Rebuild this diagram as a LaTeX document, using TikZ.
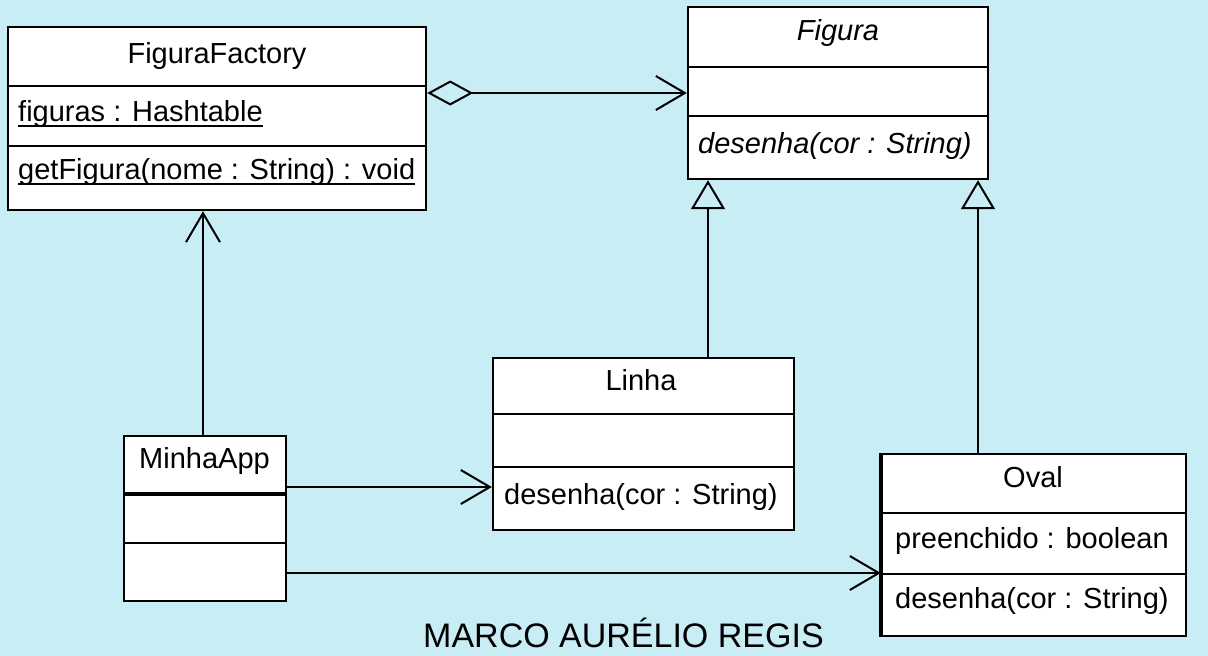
\documentclass[tikz,border=0pt]{standalone}
\usepackage{fontspec}
\setmainfont{Liberation Sans}
\usetikzlibrary{arrows.meta}
\definecolor{bgblue}{RGB}{200,237,245}
\tikzset{
  cls/.style={draw=black, fill=white, line width=2.4pt, inner sep=0pt},
  divider/.style={line width=2.2pt},
  txt/.style={inner sep=0pt, font=\fontsize{29}{34}\selectfont},
  itxt/.style={inner sep=0pt, font=\fontsize{29}{34}\selectfont\itshape},
  conn/.style={line width=2pt},
  dep/.style={conn, -{Straight Barb[length=29pt,width=34pt]}},
  gen/.style={conn, -{Triangle[open,length=29pt,width=34pt]}},
  agg/.style={conn, {Diamond[open,length=46pt,width=25pt]}-{Straight Barb[length=29pt,width=34pt]}},
}
\begin{document}
\begin{tikzpicture}[x=1pt,y=-1pt]
\fill[bgblue] (0,0) rectangle (1208,656);
\useasboundingbox (0,0) rectangle (1208,656);

% class boxes
\node[cls, minimum width=418pt, minimum height=183pt] (ff) at (217,118.5) {};
\node[cls, minimum width=300pt, minimum height=172pt] (fig) at (838,93) {};
\node[cls, minimum width=301pt, minimum height=172pt] (lin) at (643.5,444) {};
\node[cls, minimum width=162pt, minimum height=165pt] (app) at (205,518.5) {};
\node[cls, minimum width=304pt, minimum height=182pt] (ov) at (1034,545) {};

% dividers
\draw[divider] (ff.west |- 0,86) -- (ff.east |- 0,86);
\draw[divider] (ff.west |- 0,146) -- (ff.east |- 0,146);
\draw[divider] (fig.west |- 0,67) -- (fig.east |- 0,67);
\draw[divider] (fig.west |- 0,116) -- (fig.east |- 0,116);
\draw[divider] (lin.west |- 0,414) -- (lin.east |- 0,414);
\draw[divider] (lin.west |- 0,467) -- (lin.east |- 0,467);
\draw[line width=4.5pt] (app.west |- 0,494) -- (app.east |- 0,494);
\draw[divider] (app.west |- 0,543) -- (app.east |- 0,543);
\draw[divider] (ov.west |- 0,513) -- (ov.east |- 0,513);
\draw[divider] (ov.west |- 0,574) -- (ov.east |- 0,574);
\draw[line width=4pt] (ov.north west) -- (ov.south west);

% texts
\node[txt, anchor=base] (tff) at (217,63) {FiguraFactory};
\node[txt, anchor=base west] (tfig1) at (18,121) {figuras : Hashtable};
\draw[line width=1.8pt] ([yshift=-5pt]tfig1.base west) -- ([yshift=-5pt]tfig1.base east);
\node[txt, anchor=base west] (tget) at (18,179) {getFigura(nome : String) : void};
\draw[line width=1.8pt] ([yshift=-5pt]tget.base west) -- ([yshift=-5pt]tget.base east);

\node[itxt, anchor=base] (tfigura) at (838,40) {Figura};
\node[itxt, anchor=base west] (tfdes) at (698,153) {desenha(cor : String)};

\node[txt, anchor=base] (tlin) at (641,390) {Linha};
\node[txt, anchor=base west] (tldes) at (504,504) {desenha(cor : String)};

\node[txt, anchor=base west] (tapp) at (139,468) {MinhaApp};

\node[txt, anchor=base] (tov) at (1033,487) {Oval};
\node[txt, anchor=base west] (tovp) at (895,548) {preenchido : boolean};
\node[txt, anchor=base west] (tovd) at (895,608) {desenha(cor : String)};

\node[inner sep=0pt, anchor=base west, font=\fontsize{34}{40}\selectfont] (title) at (423,647) {MARCO AURÉLIO REGIS};

% connectors
\draw[agg] (fig.west -| ff.east) -- (fig.west);
\draw[dep] (app.north -| 203,0) -- (ff.south -| 203,0);
\draw[dep] (app.east |- 0,487) -- (lin.west |- 0,487);
\draw[dep] (app.east |- 0,573) -- (ov.west |- 0,573);
\draw[gen] (lin.north -| 708,0) -- (fig.south -| 708,0);
\draw[gen] (ov.north -| 978,0) -- (fig.south -| 978,0);
\end{tikzpicture}
\end{document}
